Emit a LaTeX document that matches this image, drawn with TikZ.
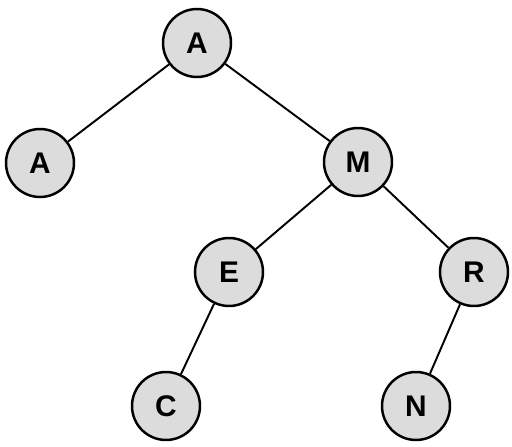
\documentclass[tikz,border=0pt]{standalone}
\usepackage{fontspec}
\setmainfont{Liberation Sans}
\definecolor{nodegray}{RGB}{220,220,220}
\begin{document}
\begin{tikzpicture}[x=0.02cm, y=-0.02cm]
		\tikzset{vertex/.style = {shape=circle, draw, line width=1.4pt, fill=nodegray, minimum size=1.36cm, inner sep=0pt, font=\fontsize{17}{20}\selectfont\bfseries}}

		\useasboundingbox (0,0) rectangle (512,447);

		\node[vertex] (A_1) at (197,43) {A};
		\node[vertex] (A_2) at (40,163) {A};
		\node[vertex] (M) at (358,162) {M};
		\node[vertex] (E) at (229,272) {E};
		\node[vertex] (R) at (474,272) {R};
		\node[vertex] (C) at (166,406) {C};
		\node[vertex] (N) at (416,406) {N};

		\draw[line width=1.1pt] (A_1)--(A_2);
		\draw[line width=1.1pt] (A_1)--(M);
		\draw[line width=1.1pt] (M)--(E);
		\draw[line width=1.1pt] (M)--(R);
		\draw[line width=1.1pt] (E)--(C);
		\draw[line width=1.1pt] (R)--(N);

	\end{tikzpicture}
\end{document}
